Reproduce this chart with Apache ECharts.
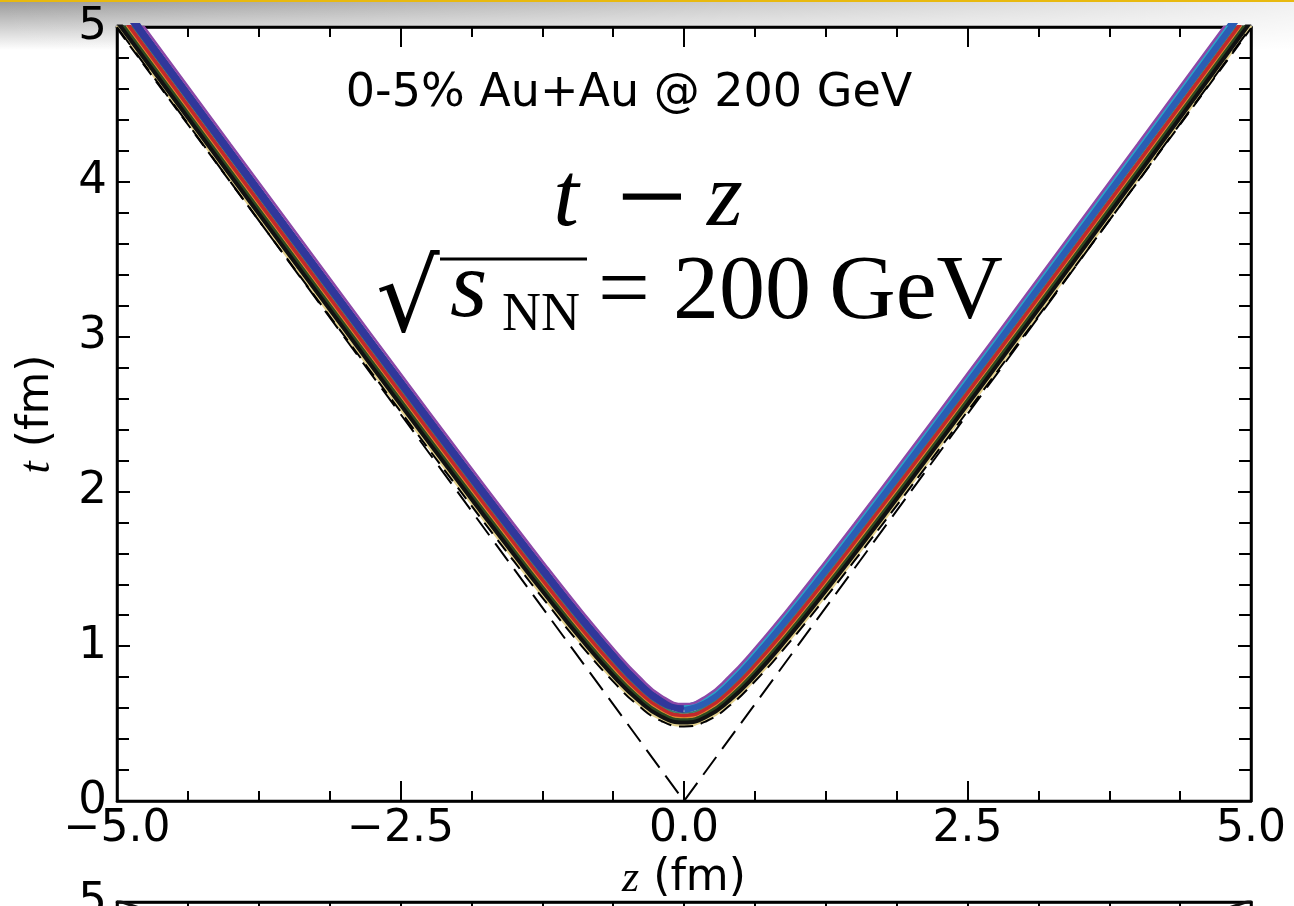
<!DOCTYPE html>
<html>
<head>
<meta charset="utf-8">
<script src="https://cdn.jsdelivr.net/npm/echarts@6/dist/echarts.min.js"></script>
<style>
  html, body { margin: 0; padding: 0; background: #fff; }
  #chart { width: 1294px; height: 906px; }
</style>
</head>
<body>
<div id="chart"></div>
<script>
// z sample points (fm)
const zGrid = [-5, -4, -3, -2.5, -2, -1.5, -1.2, -0.9, -0.6, -0.4, -0.2, 0, 0.2, 0.4, 0.6, 0.9, 1.2, 1.5, 2, 2.5, 3, 4, 5]

// light cone t = |z| (dashed)
const coneZ = [-5, 0, 5]
const coneT = [5, 0, 5]

// t (fm) for each curve of the band, bottom to top
const tYellow = [5.009, 4.015, 3.025, 2.533, 2.046, 1.565, 1.284, 1.015, 0.767, 0.628, 0.528, 0.490, 0.528, 0.628, 0.767, 1.015, 1.284, 1.565, 2.046, 2.533, 3.025, 4.015, 5.009]
const tBlackDash = [4.992, 3.998, 3.009, 2.517, 2.029, 1.549, 1.269, 0.999, 0.753, 0.615, 0.517, 0.481, 0.517, 0.615, 0.753, 0.999, 1.269, 1.549, 2.029, 2.517, 3.009, 3.998, 4.992]
const tBlack = [5.041, 4.047, 3.058, 2.566, 2.078, 1.597, 1.316, 1.045, 0.795, 0.653, 0.549, 0.510, 0.549, 0.653, 0.795, 1.045, 1.316, 1.597, 2.078, 2.566, 3.058, 4.047, 5.041]
const tDarkGreen = [5.074, 4.080, 3.090, 2.598, 2.110, 1.629, 1.347, 1.075, 0.823, 0.679, 0.571, 0.529, 0.571, 0.679, 0.823, 1.075, 1.347, 1.629, 2.110, 2.598, 3.090, 4.080, 5.074]
const tOrange = [5.094, 4.100, 3.110, 2.618, 2.129, 1.648, 1.366, 1.093, 0.840, 0.694, 0.584, 0.541, 0.584, 0.694, 0.840, 1.093, 1.366, 1.648, 2.129, 2.618, 3.110, 4.100, 5.094]
const tRed = [5.115, 4.121, 3.131, 2.639, 2.151, 1.669, 1.386, 1.113, 0.859, 0.711, 0.599, 0.554, 0.599, 0.711, 0.859, 1.113, 1.386, 1.669, 2.151, 2.639, 3.131, 4.121, 5.115]
const tGreen = [5.143, 4.149, 3.158, 2.666, 2.177, 1.695, 1.412, 1.138, 0.882, 0.732, 0.617, 0.570, 0.617, 0.732, 0.882, 1.138, 1.412, 1.695, 2.177, 2.666, 3.158, 4.149, 5.143]
const tBlue = [5.183, 4.189, 3.198, 2.706, 2.217, 1.734, 1.451, 1.176, 0.917, 0.763, 0.644, 0.594, 0.644, 0.763, 0.917, 1.176, 1.451, 1.734, 2.217, 2.706, 3.198, 4.189, 5.183]
const tCyan = [5.221, 4.227, 3.236, 2.744, 2.255, 1.771, 1.487, 1.211, 0.950, 0.793, 0.669, 0.616, 0.669, 0.793, 0.950, 1.211, 1.487, 1.771, 2.255, 2.744, 3.236, 4.227, 5.221]
const tPurple = [5.237, 4.243, 3.253, 2.760, 2.271, 1.787, 1.503, 1.226, 0.964, 0.806, 0.680, 0.626, 0.680, 0.806, 0.964, 1.226, 1.503, 1.787, 2.271, 2.760, 3.253, 4.243, 5.237]

const MID = zGrid.indexOf(0)
const FONT = 'DejaVu Sans'
const MATH = 'Liberation Serif'

function pairs (xs, ys) {
  return xs.map((x, i) => [x, ys[i]])
}

function zLabel (v) {
  return (v < 0 ? '\u2212' : '') + Math.abs(v).toFixed(1)
}

function curve (name, ts, color, width, part, extra) {
  let data = pairs(zGrid, ts)
  if (part === 'left') data = data.slice(0, MID + 1)
  if (part === 'right') data = data.slice(MID)
  return Object.assign({
    name: name,
    type: 'line',
    xAxisIndex: 0,
    yAxisIndex: 0,
    data: data,
    symbol: 'none',
    smooth: 0.5,
    clip: true,
    silent: true,
    lineStyle: { color: color, width: width, cap: 'butt' }
  }, extra || {})
}

const tickStyle = { color: '#000', width: 2 }
const lineStyle = { color: '#000', width: 2.5 }

function xAxisFor (grid, pos, labels) {
  return {
    type: 'value',
    gridIndex: grid,
    position: pos,
    min: -5,
    max: 5,
    interval: 2.5,
    axisLine: { show: true, onZero: false, lineStyle: lineStyle },
    axisTick: { show: true, inside: true, length: 20, lineStyle: tickStyle },
    minorTick: { show: true, splitNumber: 4, length: 10, lineStyle: tickStyle },
    splitLine: { show: false },
    axisLabel: {
      show: labels,
      margin: 7,
      fontSize: 44,
      fontFamily: FONT,
      color: '#000',
      showMinLabel: true,
      showMaxLabel: true,
      formatter: zLabel
    }
  }
}

function yAxisFor (grid, pos, labels) {
  return {
    type: 'value',
    gridIndex: grid,
    position: pos,
    min: 0,
    max: 5,
    interval: 1,
    axisLine: { show: true, onZero: false, lineStyle: lineStyle },
    axisTick: { show: true, inside: true, length: 13, lineStyle: tickStyle },
    minorTick: { show: true, splitNumber: 5, length: 12, lineStyle: tickStyle },
    splitLine: { show: false },
    axisLabel: {
      show: labels,
      margin: 10,
      fontSize: 45,
      fontFamily: FONT,
      color: '#000',
      showMinLabel: true,
      showMaxLabel: true
    }
  }
}

const chart = echarts.init(document.getElementById('chart'), null, { renderer: 'canvas' })

const xMain = xAxisFor(0, 'bottom', true)
xMain.name = '{i|z} (fm)'
xMain.nameLocation = 'middle'
xMain.nameGap = 56
xMain.nameTextStyle = {
  fontSize: 44, fontFamily: FONT, color: '#000',
  rich: { i: { fontSize: 44, fontFamily: MATH, fontStyle: 'italic', color: '#000' } }
}

const yMain = yAxisFor(0, 'left', true)
yMain.name = '{i|t} (fm)'
yMain.nameLocation = 'middle'
yMain.nameRotate = 90
yMain.nameGap = 58
yMain.nameTextStyle = {
  fontSize: 44, fontFamily: FONT, color: '#000',
  rich: { i: { fontSize: 44, fontFamily: MATH, fontStyle: 'italic', color: '#000' } }
}

const option = {
  animation: false,
  backgroundColor: '#fff',
  grid: [
    { left: 117, right: 43, top: 27, height: 774, show: true, backgroundColor: '#fff', borderColor: '#000', borderWidth: 2.5 },
    { left: 117, right: 43, top: 902, height: 774, show: true, backgroundColor: '#fff', borderColor: '#000', borderWidth: 2.5 }
  ],
  xAxis: [
    xMain,
    xAxisFor(0, 'top', false),
    xAxisFor(1, 'top', false)
  ],
  yAxis: [
    yMain,
    yAxisFor(0, 'right', false),
    yAxisFor(1, 'left', true),
    yAxisFor(1, 'right', false)
  ],
  series: [
    curve('yellow', tYellow, '#e4d28f', 3),
    curve('black dashed', tBlackDash, '#000', 2, null, { lineStyle: { color: '#000', width: 2, type: [14, 8] } }),
    curve('black', tBlack, '#111', 5),
    curve('dark green', tDarkGreen, '#2e4a22', 3),
    curve('orange', tOrange, '#e08a2e', 2),
    curve('red', tRed, '#c3282b', 4),
    curve('green', tGreen, '#3f7f6b', 2),
    curve('navy', tBlue, '#30379b', 8, 'left'),
    curve('blue', tBlue, '#2b5db4', 8, 'right'),
    curve('cyan', tCyan, '#28a6c6', 2.5, 'right'),
    curve('purple', tPurple, '#8c48a8', 2.5),
    {
      name: 'light cone',
      type: 'line',
      xAxisIndex: 0,
      yAxisIndex: 0,
      data: pairs(coneZ, coneT),
      symbol: 'none',
      clip: true,
      silent: true,
      z: 5,
      lineStyle: { color: '#000', width: 2, type: [22, 10] }
    },
    Object.assign(curve('next panel', tBlack, '#111', 3), { xAxisIndex: 2, yAxisIndex: 2 })
  ],
  graphic: [
    // slide header: gold rule and grey fade
    {
      type: 'rect', z: -10, silent: true,
      shape: { x: 0, y: 2, width: 1294, height: 48 },
      style: {
        fill: new echarts.graphic.LinearGradient(0, 0, 0, 1, [
          { offset: 0, color: '#9c9c9c' },
          { offset: 1, color: '#ffffff' }
        ])
      }
    },
    {
      type: 'rect', z: -9, silent: true,
      shape: { x: 0, y: 2, width: 1294, height: 48 },
      style: {
        fill: new echarts.graphic.LinearGradient(0, 0, 1, 0, [
          { offset: 0, color: 'rgba(255,255,255,0)' },
          { offset: 1, color: 'rgba(255,255,255,0.85)' }
        ])
      }
    },
    {
      type: 'rect', z: -8, silent: true,
      shape: { x: 0, y: 0, width: 1294, height: 2 },
      style: { fill: '#e8b90f' }
    },
    // in-plot annotations
    {
      type: 'text', z: 100, silent: true,
      x: 629, y: 94,
      style: { text: '0-5% Au+Au @ 200 GeV', font: '46px "DejaVu Sans"', fill: '#000', align: 'center', verticalAlign: 'middle' }
    },
    {
      type: 'text', z: 100, silent: true,
      x: 566, y: 247,
      style: { text: 't', font: 'italic 92px "Liberation Serif"', fill: '#000', align: 'center', verticalAlign: 'bottom' }
    },
    {
      type: 'text', z: 100, silent: true,
      x: 652, y: 205,
      style: { text: '\u2212', font: '125px "Liberation Serif"', fill: '#000', align: 'center', verticalAlign: 'middle' }
    },
    {
      type: 'text', z: 100, silent: true,
      x: 725, y: 247,
      style: { text: 'z', font: 'italic 92px "Liberation Serif"', fill: '#000', align: 'center', verticalAlign: 'bottom' }
    },
    {
      type: 'text', z: 100, silent: true,
      x: 376, y: 355,
      style: { text: '\u221A', font: '100px "DejaVu Serif"', fill: '#000', align: 'left', verticalAlign: 'bottom' }
    },
    {
      type: 'line', z: 100, silent: true,
      shape: { x1: 440, y1: 259, x2: 587, y2: 259 },
      style: { stroke: '#000', lineWidth: 3 }
    },
    {
      type: 'text', z: 100, silent: true,
      x: 450, y: 339,
      style: { text: 's', font: 'italic 96px "Liberation Serif"', fill: '#000', align: 'left', verticalAlign: 'bottom' }
    },
    {
      type: 'text', z: 100, silent: true,
      x: 502, y: 343,
      style: { text: 'NN', font: '54px "Liberation Serif"', fill: '#000', align: 'left', verticalAlign: 'bottom' }
    },
    {
      type: 'text', z: 100, silent: true,
      x: 598, y: 340,
      style: { text: '= 200\u2009GeV', font: '92px "Liberation Serif"', fill: '#000', align: 'left', verticalAlign: 'bottom' }
    }
  ]
}

chart.setOption(option)
</script>
</body>
</html>
